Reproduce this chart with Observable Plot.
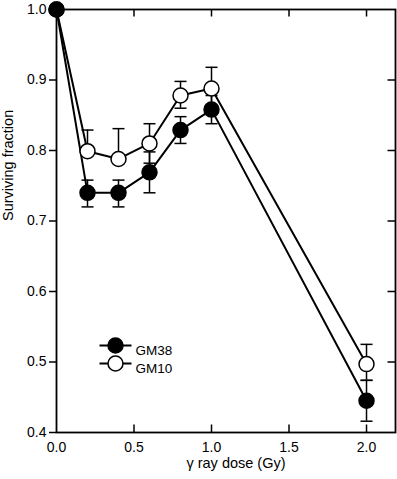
<!DOCTYPE html>
<html><head><meta charset="utf-8">
<script src="https://cdn.jsdelivr.net/npm/d3@7"></script>
<script src="https://cdn.jsdelivr.net/npm/@observablehq/plot@0.6"></script>
<style>
html,body{margin:0;padding:0;background:#fff;}
#chart{width:397px;height:479px;}
</style>
</head><body><div id="chart"></div>
<script>
// ---- data ----
const doses = [0, 0.2, 0.4, 0.6, 0.8, 1.0, 2.0];
const gm38 = [1.0, 0.740, 0.740, 0.769, 0.829, 0.858, 0.445];
const gm38ErrLo = [0, 0.020, 0.020, 0.029, 0.019, 0.020, 0.029];
const gm38ErrHi = [0, 0.018, 0.018, 0.029, 0.019, 0.020, 0.029];
const gm10 = [1.0, 0.799, 0.788, 0.810, 0.878, 0.888, 0.497];
const gm10ErrLo = [0, 0, 0, 0.028, 0.018, 0.030, 0.023];
const gm10ErrHi = [0, 0.030, 0.043, 0.028, 0.020, 0.030, 0.028];
const seriesNames = ["GM38", "GM10"];
const xTicks = [0, 0.5, 1.0, 1.5, 2.0];
const yTicks = [0.4, 0.5, 0.6, 0.7, 0.8, 0.9, 1.0];
const xLabel = "γ ray dose (Gy)";
const yLabel = "Surviving fraction";

// ---- tables ----
const seriesData = {GM38: [gm38, gm38ErrLo, gm38ErrHi], GM10: [gm10, gm10ErrLo, gm10ErrHi]};
const rows = [];
for (const s of seriesNames) {
  const [v, lo, hi] = seriesData[s];
  doses.forEach((d, i) => rows.push({series: s, dose: d, v: v[i], lo: v[i] - lo[i], hi: v[i] + hi[i], elo: lo[i], ehi: hi[i]}));
}
const caps = [];
for (const r of rows) {
  if (r.elo > 0) caps.push({series: r.series, dose: r.dose, y: r.lo});
  if (r.ehi > 0) caps.push({series: r.series, dose: r.dose, y: r.hi});
}
const bars = rows.filter(r => r.elo > 0 || r.ehi > 0);

// custom symbols
const hSeg = half => ({draw(ctx) { ctx.moveTo(-half, 0); ctx.lineTo(half, 0); }});
const vSeg = len => ({draw(ctx) { ctx.moveTo(0, 0); ctx.lineTo(0, len); }});
const hSegDir = len => ({draw(ctx) { ctx.moveTo(0, 0); ctx.lineTo(len, 0); }});

const W = 397, H = 479;
const font = "'Liberation Sans', Arial, Helvetica, sans-serif";

const legendMarks = [];
seriesNames.forEach((s, i) => {
  const dy = 336 + i * 18;
  legendMarks.push(Plot.dot([s], {frameAnchor: "top-left", dx: 59, dy, symbol: hSeg(16), r: 1, stroke: "black", fill: "none", strokeWidth: 2}));
  legendMarks.push(Plot.dot([s], {frameAnchor: "top-left", dx: 59, dy, r: 7.5, stroke: "black", strokeWidth: 1.5, fill: s === "GM38" ? "black" : "white"}));
  legendMarks.push(Plot.text([s], {frameAnchor: "top-left", dx: 79, dy, text: d => d, textAnchor: "start", fontSize: 13.5, fill: "black"}));
});

const chart = Plot.plot({
  width: W, height: H,
  marginLeft: 56, marginRight: 2, marginTop: 9, marginBottom: 47,
  style: {fontFamily: font, fontSize: "14px", color: "black", background: "white", overflow: "visible"},
  x: {domain: [0, 2.187]},
  y: {domain: [0.4, 1.0]},
  marks: [
    Plot.frame({stroke: "black", strokeWidth: 1.8}),
    Plot.axisX({ticks: xTicks, tickFormat: d3.format(".1f"), tickSize: 0, tickPadding: 10, label: null, fontSize: 14}),
    Plot.axisY({ticks: yTicks, tickFormat: d3.format(".1f"), tickSize: 7, tickPadding: 3, label: null, fontSize: 14, strokeWidth: 1.5}),
    Plot.dot(xTicks.filter(t => t > 0), {x: d => d, frameAnchor: "bottom", symbol: vSeg(-8), r: 1, stroke: "black", fill: "none", strokeWidth: 1.5}),
    Plot.dot(xTicks.filter(t => t > 0), {x: d => d, frameAnchor: "top", symbol: vSeg(7), r: 1, stroke: "black", fill: "none", strokeWidth: 1.5}),
    Plot.dot(yTicks.filter(t => t > 0.4 && t < 1.0), {y: d => d, frameAnchor: "right", symbol: hSegDir(-8), r: 1, stroke: "black", fill: "none", strokeWidth: 1.5}),
    Plot.text([xLabel], {frameAnchor: "bottom", dx: 10, dy: 35, fontSize: 14.5, fill: "black"}),
    Plot.text([yLabel], {frameAnchor: "left", dx: -48, rotate: -90, fontSize: 14.5, fill: "black"}),
    Plot.line(rows, {x: "dose", y: "v", z: "series", stroke: "black", strokeWidth: 2}),
    Plot.ruleX(bars, {x: "dose", y1: "lo", y2: "hi", stroke: "black", strokeWidth: 1.5}),
    Plot.dot(caps, {x: "dose", y: "y", symbol: hSeg(6), r: 1, stroke: "black", fill: "none", strokeWidth: 1.5}),
    Plot.dot(rows.filter(r => r.series === "GM10"), {x: "dose", y: "v", r: 7.5, fill: "white", stroke: "black", strokeWidth: 1.5}),
    Plot.dot(rows.filter(r => r.series === "GM38"), {x: "dose", y: "v", r: 7.5, fill: "black", stroke: "black", strokeWidth: 1.5}),
    ...legendMarks
  ]
});
document.getElementById("chart").appendChild(chart);
</script>
</body></html>
